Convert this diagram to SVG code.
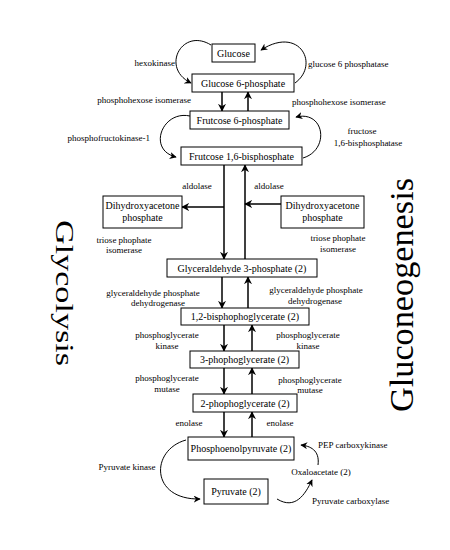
<svg xmlns="http://www.w3.org/2000/svg" width="450" height="550" viewBox="0 0 450 550" font-family="'Liberation Serif', 'Times New Roman', serif">
<defs>
<marker id="ah" viewBox="0 0 10 10" refX="9" refY="5" markerWidth="8" markerHeight="8" markerUnits="userSpaceOnUse" orient="auto">
<path d="M0,0 L10,5 L0,10 L3,5 z" fill="#000"/>
</marker>
<marker id="ahs" viewBox="0 0 10 10" refX="9" refY="5" markerWidth="7" markerHeight="7" markerUnits="userSpaceOnUse" orient="auto">
<path d="M0,0 L10,5 L0,10 L3,5 z" fill="#000"/>
</marker>
</defs>
<style>
.box{fill:#fff;stroke:#000;stroke-width:1}
.bt{font-family:"Liberation Serif","Times New Roman",serif;font-size:10px;fill:#000;text-anchor:middle}
.lb{font-family:"Liberation Serif","Times New Roman",serif;font-size:9px;fill:#000}
.m{text-anchor:middle}
.e{text-anchor:end}
.s{text-anchor:start}
.st{fill:none;stroke:#000;stroke-width:1.5;marker-end:url(#ah)}
.cv{fill:none;stroke:#000;stroke-width:1;marker-end:url(#ahs)}
.big{font-family:"Liberation Serif","Times New Roman",serif;fill:#000}
</style>
<rect width="450" height="550" fill="#fff"/>

<g id="connectors">
<path class="st" d="M222,92 V111"/>
<path class="st" d="M248,111 V92"/>
<path class="st" d="M224,165 V259"/>
<path class="st" d="M245,259 V165"/>
<path class="st" d="M224,207 H182"/>
<path class="st" d="M281,204 H245"/>
<path class="st" d="M222,277 V308"/>
<path class="st" d="M248,308 V277"/>
<path class="st" d="M224,325 V351"/>
<path class="st" d="M252,351 V325"/>
<path class="st" d="M224,368 V394"/>
<path class="st" d="M252,394 V368"/>
<path class="st" d="M224,412 V437"/>
<path class="st" d="M252,437 V412"/>
<path class="cv" d="M211,45 C182,27 160,68 191,83"/>
<path class="cv" d="M295,83 C320,65 300,25 261,50"/>
<path class="cv" d="M190,116 C162,110 147,150 176,157"/>
<path class="cv" d="M303,158 C330,150 325,110 296,117"/>
<path class="cv" d="M186,440 C150,450 150,500 200,499"/>
<path class="cv" d="M277,499 C295,510 305,495 312,480"/>
<path class="cv" d="M318,465 C320,450 310,446 301,445"/>
</g>

<g id="glucose"><rect class="box" x="212" y="44" width="43" height="18"/><text class="bt" x="233.5" y="56.5">Glucose</text></g>
<g id="g6p"><rect class="box" x="192" y="74" width="102" height="18"/><text class="bt" x="243" y="86.5">Glucose 6-phosphate</text></g>
<g id="f6p"><rect class="box" x="190" y="111" width="99" height="18"/><text class="bt" x="239.5" y="123.5">Frutcose 6-phosphate</text></g>
<g id="f16bp"><rect class="box" x="181" y="147" width="121" height="18"/><text class="bt" x="241.5" y="159.5">Frutcose 1,6-bisphosphate</text></g>
<g id="dhap-left"><rect class="box" x="103" y="196" width="79" height="32"/><text class="bt" x="142.5" y="209">Dihydroxyacetone</text><text class="bt" x="142.5" y="221">phosphate</text></g>
<g id="dhap-right"><rect class="box" x="281" y="196" width="83" height="32"/><text class="bt" x="322.5" y="209">Dihydroxyacetone</text><text class="bt" x="322.5" y="221">phosphate</text></g>
<g id="g3p"><rect class="box" x="167" y="259" width="150" height="18"/><text class="bt" x="242" y="271.5">Glyceraldehyde 3-phosphate (2)</text></g>
<g id="bpg"><rect class="box" x="181" y="308" width="128" height="17"/><text class="bt" x="245" y="320">1,2-bisphophoglycerate (2)</text></g>
<g id="pg3"><rect class="box" x="190" y="351" width="109" height="17"/><text class="bt" x="244.5" y="363">3-phophoglycerate (2)</text></g>
<g id="pg2"><rect class="box" x="193" y="394" width="104" height="18"/><text class="bt" x="245" y="406.5">2-phophoglycerate (2)</text></g>
<g id="pep"><rect class="box" x="188" y="437" width="106" height="23"/><text class="bt" x="241" y="452">Phosphoenolpyruvate (2)</text></g>
<g id="pyruvate"><rect class="box" x="204" y="479" width="64" height="25"/><text class="bt" x="236" y="495">Pyruvate (2)</text></g>

<g id="labels">
<text class="lb e" x="175" y="66">hexokinase</text>
<text class="lb s" x="308" y="67">glucose 6 phosphatase</text>
<text class="lb e" x="191" y="103">phosphohexose isomerase</text>
<text class="lb s" x="292" y="105">phosphohexose isomerase</text>
<text class="lb e" x="150" y="141">phosphofructokinase-1</text>
<text class="lb m" x="362" y="134">fructose</text>
<text class="lb m" x="368" y="146">1,6-bisphosphatase</text>
<text class="lb m" x="197" y="189">aldolase</text>
<text class="lb m" x="269" y="189">aldolase</text>
<text class="lb m" x="124" y="243">triose phophate</text>
<text class="lb m" x="124" y="253">isomerase</text>
<text class="lb m" x="338" y="241">triose phophate</text>
<text class="lb m" x="338" y="252">isomerase</text>
<text class="lb m" x="153" y="296">glyceraldehyde phosphate</text>
<text class="lb m" x="158" y="306">dehydrogenase</text>
<text class="lb m" x="316" y="293">glyceraldehyde phosphate</text>
<text class="lb m" x="315" y="304">dehydrogenase</text>
<text class="lb m" x="167" y="338">phosphoglycerate</text>
<text class="lb m" x="167" y="349">kinase</text>
<text class="lb m" x="308" y="338">phosphoglycerate</text>
<text class="lb m" x="308" y="349">kinase</text>
<text class="lb m" x="167" y="381">phosphoglycerate</text>
<text class="lb m" x="167" y="392">mutase</text>
<text class="lb m" x="310" y="383">phosphoglycerate</text>
<text class="lb m" x="310" y="393">mutase</text>
<text class="lb m" x="189" y="426">enolase</text>
<text class="lb m" x="280" y="426">enolase</text>
<text class="lb s" x="318" y="448">PEP carboxykinase</text>
<text class="lb m" x="321" y="475">Oxaloacetate (2)</text>
<text class="lb s" x="312" y="504">Pyruvate carboxylase</text>
<text class="lb m" x="127" y="470">Pyruvate kinase</text>
</g>

<g id="titles">
<text class="big" font-size="26" transform="translate(56,220) rotate(90)" textLength="146" lengthAdjust="spacingAndGlyphs">Glycolysis</text>
<text class="big" font-size="34" transform="translate(413,412) rotate(-90)" textLength="234" lengthAdjust="spacingAndGlyphs">Gluconeogenesis</text>
</g>
</svg>
